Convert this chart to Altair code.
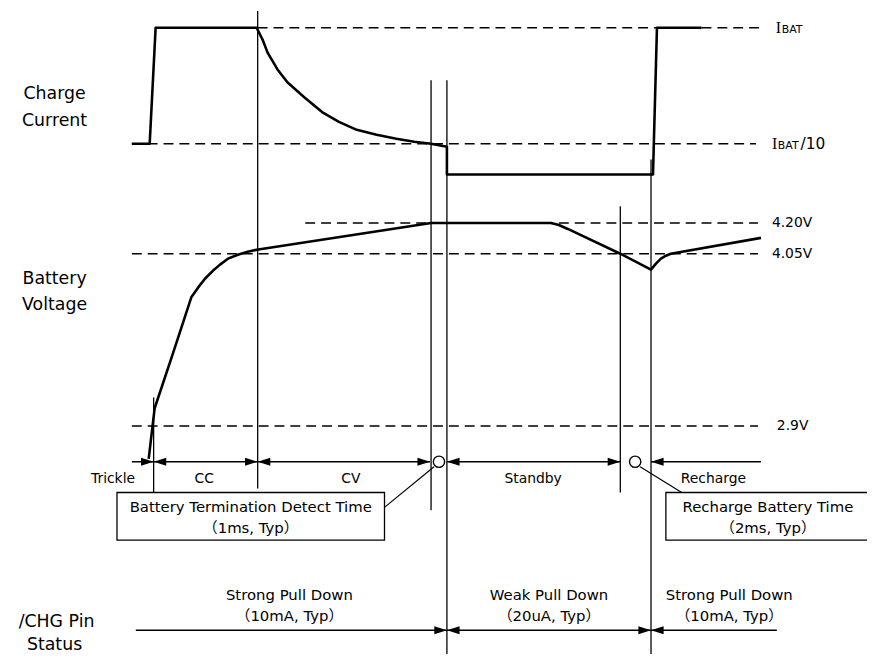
import altair as alt
import pandas as pd

FONT = "DejaVu Sans, Noto Sans CJK JP"

# ---------------- data (time axis, level axis in diagram units) ----
# Charge current waveform
cur_t = [133, 151, 157, 259, 265, 270, 280, 290, 307, 325, 342, 360, 380, 400, 418, 435, 451, 451, 659, 663, 708]
cur_v = [142, 142, 25, 25, 37, 50, 67, 80, 95, 110, 120, 128, 133, 137, 140, 142, 145, 173, 173, 25, 25]

# Battery voltage waveform
vol_t = [150, 156, 175, 193, 200, 207, 215, 222, 230, 240, 250, 259, 435, 548, 556, 564, 573, 626, 657, 662, 667, 672, 677, 768]
vol_v = [460, 409, 352, 297, 287, 278, 270, 264, 258, 254, 251, 249, 222, 222, 222, 224, 228, 253, 269, 263, 258, 255, 253, 237]

# dashed threshold lines
thr_level = [25, 142, 222, 253, 427]
thr_from = [260, 133, 308, 133, 133]
thr_to = [768, 763, 765, 765, 765]

volt_labels = ["4.20V", "4.05V", "2.9V"]
volt_label_t = [779, 779, 784]
volt_label_lv = [222, 253, 427]

# phase boundaries (vertical lines)
bound_t = [155, 260, 435, 451, 626, 657]
bound_top = [398, 8, 78, 78, 205, 158]
bound_bot = [494, 490, 512, 662, 494, 662]

# phase arrows (row 1)
row1 = 463
phase_from = [133, 155, 260, 451, 657]
phase_to = [155, 260, 434, 626, 768]
phase_head_from = [False, True, True, True, True]
phase_head_to = [True, True, True, True, False]
phase_names = ["Trickle", "CC", "CV", "Standby", "Recharge"]
phase_name_t = [114, 206, 354, 538, 720]
phase_name_lv = 480

# detect-time markers
mark_t = [443, 641]
leader_from_t = [438, 646]
leader_from_lv = [468, 468]
leader_to_t = [388, 688]
leader_to_lv = [509, 494]

# callout boxes
box_from = [118, 672]
box_to = [388, 880]
box_top = 494
box_bot = 542
box_l1 = ["Battery Termination Detect Time", "Recharge Battery Time"]
box_l2 = ["（1ms, Typ）", "（2ms, Typ）"]
box_text_t = [253, 775]

# /CHG pin status arrows (row 2)
row2 = 633
pin_from = [137, 451, 657]
pin_to = [451, 657, 784]
pin_head_from = [False, True, True]
pin_head_to = [True, True, False]
pin_l1 = ["Strong Pull Down", "Weak Pull Down", "Strong Pull Down"]
pin_l2 = ["（10mA, Typ）", "（20uA, Typ）", "（10mA, Typ）"]
pin_text_t = [292, 554, 736]

# side titles
side_text = ["Charge", "Current", "Battery", "Voltage", "/CHG Pin", "Status"]
side_t = [55, 55, 55, 55, 57, 55]
side_lv = [92, 119, 279, 305, 625, 648]

# ---------------- scales ----------------
xs = alt.Scale(domain=[8, 875], nice=False, zero=False)
ys = alt.Scale(domain=[8, 654], nice=False, zero=False, reverse=True)


def X(f="x"):
    return alt.X(f + ":Q", scale=xs, axis=None)


def Y(f="y"):
    return alt.Y(f + ":Q", scale=ys, axis=None)


layers = []

# vertical boundaries
df_b = pd.DataFrame({"x": bound_t, "y": bound_top, "y2": bound_bot})
layers.append(alt.Chart(df_b).mark_rule(color="black", strokeWidth=1.3).encode(
    x=X(), y=Y(), y2="y2:Q"))

# dashed thresholds
df_thr = pd.DataFrame({"x": thr_from, "x2": thr_to, "y": thr_level})
layers.append(alt.Chart(df_thr).mark_rule(color="black", strokeWidth=1.5, strokeDash=[10, 6]).encode(
    x=X(), x2="x2:Q", y=Y()))

# waveforms
df_c = pd.DataFrame({"x": cur_t, "y": cur_v, "i": range(len(cur_t))})
layers.append(alt.Chart(df_c).mark_line(color="black", strokeWidth=2.6, strokeJoin="round").encode(
    x=X(), y=Y(), order="i:Q"))
df_v = pd.DataFrame({"x": vol_t, "y": vol_v, "i": range(len(vol_t))})
layers.append(alt.Chart(df_v).mark_line(color="black", strokeWidth=2.6, strokeJoin="round").encode(
    x=X(), y=Y(), order="i:Q"))

# arrow shafts and heads
shafts = []
heads = []
for a, b, hf, ht in zip(phase_from, phase_to, phase_head_from, phase_head_to):
    shafts.append({"x": a, "x2": b, "y": row1})
    if hf:
        heads.append({"x": a, "y": row1, "d": "left"})
    if ht:
        heads.append({"x": b, "y": row1, "d": "right"})
for a, b, hf, ht in zip(pin_from, pin_to, pin_head_from, pin_head_to):
    shafts.append({"x": a, "x2": b, "y": row2})
    if hf:
        heads.append({"x": a, "y": row2, "d": "left"})
    if ht:
        heads.append({"x": b, "y": row2, "d": "right"})
layers.append(alt.Chart(pd.DataFrame(shafts)).mark_rule(color="black", strokeWidth=1.5).encode(
    x=X(), x2="x2:Q", y=Y()))
RIGHT = "M0,0L-1,-0.32L-1,0.32Z"
LEFT = "M0,0L1,-0.32L1,0.32Z"
layers.append(alt.Chart(pd.DataFrame(heads)).mark_point(filled=True, color="black", opacity=1, size=650).encode(
    x=X(), y=Y(),
    shape=alt.Shape("d:N", scale=alt.Scale(domain=["left", "right"], range=[LEFT, RIGHT]), legend=None)))

# leaders
df_l = pd.DataFrame({"x": leader_from_t, "y": leader_from_lv, "x2": leader_to_t, "y2": leader_to_lv})
layers.append(alt.Chart(df_l).mark_rule(color="black", strokeWidth=1.2).encode(
    x=X(), y=Y(), x2="x2:Q", y2="y2:Q"))

# markers (circles)
df_m = pd.DataFrame({"x": mark_t, "y": [row1] * len(mark_t)})
layers.append(alt.Chart(df_m).mark_point(shape="circle", filled=False, color="black", strokeWidth=1.4,
                                          size=130, opacity=1).encode(
    x=X(), y=Y()))

# boxes
df_box = pd.DataFrame({"x": box_from, "x2": box_to, "y": [box_top] * 2, "y2": [box_bot] * 2})
layers.append(alt.Chart(df_box).mark_rect(fill="white", stroke="black", strokeWidth=1.3).encode(
    x=X(), x2="x2:Q", y=Y(), y2="y2:Q"))


# texts
def text_layer(xv, yv, tv, size, align="center", font=FONT):
    df = pd.DataFrame({"x": xv, "y": yv, "t": tv})
    return alt.Chart(df).mark_text(font=font, fontSize=size, align=align, baseline="middle",
                                   color="black").encode(x=X(), y=Y(), text="t:N")


layers.append(text_layer(side_t, side_lv, side_text, 17.5))
layers.append(text_layer(phase_name_t, [phase_name_lv] * 5, phase_names, 14))
layers.append(text_layer(box_text_t, [509] * 2, box_l1, 15))
layers.append(text_layer(box_text_t, [530] * 2, box_l2, 15))
layers.append(text_layer(pin_text_t, [598] * 3, pin_l1, 15))
layers.append(text_layer(pin_text_t, [619] * 3, pin_l2, 15))
layers.append(text_layer(volt_label_t, volt_label_lv, volt_labels, 14, align="left"))

# IBAT labels: large "I" + small-caps "BAT"
layers.append(alt.Chart(pd.DataFrame({"x": [783, 779], "y": [30.5, 147.5], "t": ["I", "I"]})).mark_text(
    font="Liberation Serif", fontSize=16, align="left", baseline="alphabetic", color="black").encode(
    x=X(), y=Y(), text="t:N"))
layers.append(alt.Chart(pd.DataFrame({"x": [789, 785], "y": [30.5, 147.5], "t": ["BAT", "BAT"]})).mark_text(
    font="DejaVu Sans", fontSize=11, align="left", baseline="alphabetic", color="black").encode(
    x=X(), y=Y(), text="t:N"))
layers.append(alt.Chart(pd.DataFrame({"x": [808], "y": [147.5], "t": ["/10"]})).mark_text(
    font="DejaVu Sans", fontSize=15.5, align="left", baseline="alphabetic", color="black").encode(
    x=X(), y=Y(), text="t:N"))

chart = alt.layer(*layers).properties(
    width=867, height=646, padding=0,
    autosize=alt.AutoSizeParams(type="none"),
    background="white",
).configure_view(stroke=None)

chart.save("out.html", embed_options={"renderer": "svg", "actions": False})
